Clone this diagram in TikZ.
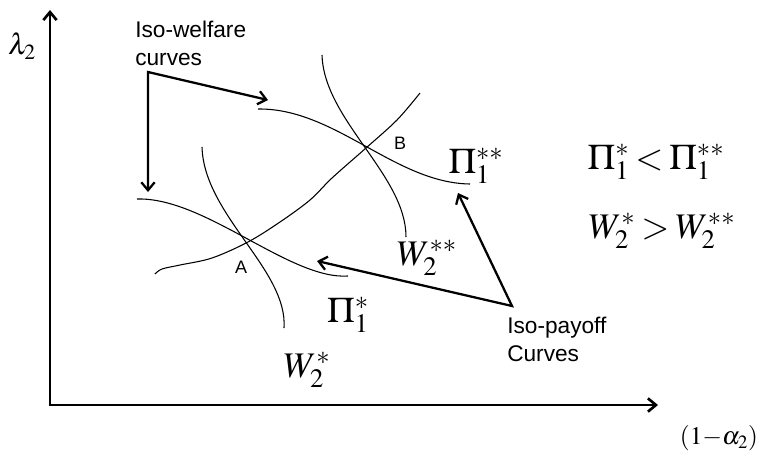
\documentclass[tikz,border=0pt]{standalone}
\usepackage{mathptmx}
\usepackage{fontspec}
\setmainfont{Liberation Serif}
\newfontfamily\sansf{Liberation Sans}
\usetikzlibrary{arrows.meta}
\begin{document}
\begin{tikzpicture}[x=0.75pt,y=-0.75pt,
  curve/.style={line width=0.8pt},
  pointer/.style={line width=1.7pt,{Straight Barb[length=6pt,width=10pt]}-{Straight Barb[length=6pt,width=10pt]}},
  axisline/.style={line width=2pt,-{Straight Barb[length=6pt,width=10pt]}},
  sanslab/.style={font=\sansf\fontsize{17}{21}\selectfont,inner sep=0pt,align=left},
  ptlab/.style={font=\sansf\fontsize{13.5}{15}\selectfont,inner sep=0pt},
  mathlab/.style={font=\fontsize{27}{30}\selectfont,inner sep=0pt},
  axlab/.style={font=\fontsize{19}{22}\selectfont,inner sep=0pt}]
\useasboundingbox (0,0) rectangle (760,465);
% axes
\coordinate (O) at (50,405);
\coordinate (ytop) at (50,10);
\coordinate (xend) at (658,405);
\draw[axisline] ([yshift=-1pt]O) -- (ytop);
\draw[axisline] ([xshift=-1pt]O) -- (xend);
\node[axlab,font=\fontsize{22}{24}\selectfont] (lam) at (22,46) {$\lambda_2$};
\node[axlab] (alp) at (719,438) {$(1{-}\alpha_2)$};
% iso-welfare curves
\draw[curve] (258,109) .. controls (335,108) and (395,183) .. (470,184);
\draw[curve] (137,199) .. controls (205,197) and (290,280) .. (348,276);
% iso-payoff curves
\draw[curve] (322,55) .. controls (324,120) and (406,175) .. (406,237);
\draw[curve] (202,147) .. controls (204,215) and (288,270) .. (284,328);
% contract curve
\draw[curve] plot[smooth,tension=0.55] coordinates {(155,274) (162,269) (180,265) (212,258) (248,242) (280,222) (310,200) (332,178) (366,148) (397,120) (420,93)};
% point labels
\node[ptlab] (A) at (241,267) {A};
\node[ptlab] (B) at (400,143) {B};
% math labels
\node[mathlab] (p1ss) at (476,166) {$\Pi_1^{**}$};
\node[mathlab] (w2ss) at (427,258) {$W_2^{**}$};
\node[mathlab] (p1s) at (348,315) {$\Pi_1^{*}$};
\node[mathlab] (w2s) at (307,370) {$W_2^{*}$};
\node[mathlab] (ineq1) at (656,162) {$\thickmuskip=3mu \Pi_1^{*}<\Pi_1^{**}$};
\node[mathlab] (ineq2) at (662,231) {$\thickmuskip=3mu W_2^{*}>W_2^{**}$};
% annotation labels
\node[sanslab,anchor=north west] (welf) at (135,21) {Iso-welfare\\curves};
\node[sanslab,anchor=north west] (pay) at (507,317) {Iso-payoff\\Curves};
\coordinate (wc) at (148,72);
\coordinate (w1) at (268,100);
\coordinate (w2) at (148,192);
\coordinate (pc) at (512,306);
\coordinate (p1) at (317,261);
\coordinate (p2) at (458,193);
\draw[pointer] (w1) -- (wc) -- (w2);
\draw[pointer] (p1) -- (pc) -- (p2);
\end{tikzpicture}
\end{document}
